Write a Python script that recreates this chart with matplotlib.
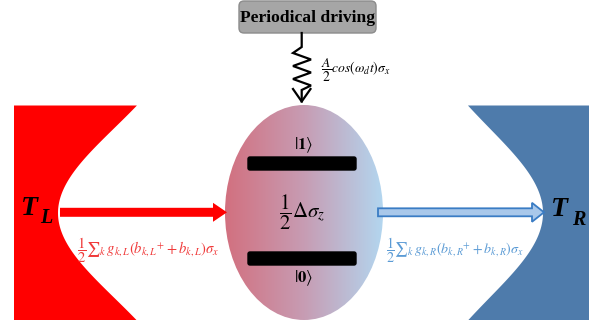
import numpy as np
import matplotlib
matplotlib.use("Agg")
import matplotlib.pyplot as plt
from matplotlib.patches import Polygon, Ellipse, FancyBboxPatch, FancyArrow
from matplotlib.colors import LinearSegmentedColormap

plt.rcParams['mathtext.fontset'] = 'stix'

# ---- text content ----
title_text = "Periodical driving"
drive_label = r'$\dfrac{A}{2}cos(\omega_d t)\sigma_x$'
left_label = r'$\dfrac{1}{2}\sum{}_k\, g_{k,L}(b_{k,L}{}^{+}+b_{k,L})\sigma_x$'
right_label = r'$\dfrac{1}{2}\sum{}_k\, g_{k,R}(b_{k,R}{}^{+}+b_{k,R})\sigma_x$'
center_label = r'$\dfrac{1}{2}\Delta\sigma_z$'
state_up = r'$|\mathbf{1}\rangle$'
state_down = r'$|\mathbf{0}\rangle$'
temps = ["L", "R"]

W, H = 599, 327
fig = plt.figure(figsize=(W / 100, H / 100), dpi=100)
ax = fig.add_axes([0, 0, 1, 1])
ax.set_xlim(0, W)
ax.set_ylim(H, 0)
ax.axis('off')

# ---- reservoirs ----
yy = np.linspace(105.5, 320, 200)
prof = 1 - np.exp(-((yy - 213) / 120.0) ** 2)
xl = 58 + 143 * prof
left_poly = np.vstack([[[14, 105.5]], np.column_stack([xl, yy]), [[14, 320]]])
ax.add_patch(Polygon(left_poly, closed=True, fc='#ff0000', ec='none', zorder=1))
xr = 543 - 136 * prof
right_poly = np.vstack([[[589, 105.5]], np.column_stack([xr, yy]), [[589, 320]]])
ax.add_patch(Polygon(right_poly, closed=True, fc='#4e7bab', ec='none', zorder=1))

# ---- central ellipse with gradient ----
cx, cy, ew, eh = 304, 212.5, 158, 215
ell = Ellipse((cx, cy), ew, eh, fc='none', ec='none', zorder=2)
ax.add_patch(ell)
cmap = LinearSegmentedColormap.from_list('g', ['#d2707f', '#c79cb3', '#b3d6ef'])
grad = np.linspace(0, 1, 256).reshape(1, -1)
im = ax.imshow(grad, cmap=cmap, extent=(cx - ew / 2, cx + ew / 2, cy + eh / 2, cy - eh / 2),
               aspect='auto', zorder=2, interpolation='bilinear')
im.set_clip_path(ell)
ax.set_xlim(0, W)
ax.set_ylim(H, 0)

# energy levels
for ytop in (157, 252):
    ax.add_patch(FancyBboxPatch((249, ytop + 1), 106, 11, boxstyle="round,pad=1,rounding_size=2",
                                fc='black', ec='black', zorder=3))
ax.text(304, 145, state_up, fontsize=12, ha='center', va='center', zorder=4)
ax.text(304, 278, state_down, fontsize=12, ha='center', va='center', zorder=4)
ax.text(302, 212, center_label, fontsize=15, ha='center', va='center', zorder=4)

# ---- arrows ----
ax.add_patch(FancyArrow(60, 212.3, 167, 0, width=9, head_width=19, head_length=14,
                        length_includes_head=True, fc='#ff0000', ec='none', zorder=3))
ax.add_patch(FancyArrow(378, 212.3, 166, 0, width=8, head_width=19, head_length=12,
                        length_includes_head=True, fc='#a9c8ea', ec='#3a7cc4', lw=1.3, zorder=3))

ax.text(77, 250, left_label, fontsize=10.5, color='#f03a3a', ha='left', va='center', zorder=4)
ax.text(386, 250, right_label, fontsize=10.1, color='#5b9bd5', ha='left', va='center', zorder=4)

# temperature labels
ax.text(21, 215, "T", fontsize=20, family='Liberation Serif', weight='bold', style='italic',
        ha='left', va='baseline', zorder=4)
ax.text(40, 223, temps[0], fontsize=14.5, family='Liberation Serif', weight='bold', style='italic',
        ha='left', va='baseline', zorder=4)
ax.text(551, 216.5, "T", fontsize=20, family='Liberation Serif', weight='bold', style='italic',
        ha='left', va='baseline', zorder=4)
ax.text(572, 225, temps[1], fontsize=14.5, family='Liberation Serif', weight='bold', style='italic',
        ha='left', va='baseline', zorder=4)

# ---- driving box ----
ax.add_patch(FancyBboxPatch((240, 2), 135, 30, boxstyle="round,pad=1,rounding_size=5",
                            fc='#a6a6a6', ec='#8c8c8c', lw=1, zorder=3))
ax.text(307, 18, title_text, fontsize=12.6, family='Liberation Serif', weight='bold',
        ha='center', va='center', zorder=4)

# spring
sx = [301.7, 301.7, 293, 311, 293, 311, 293, 311, 301.7, 301.7]
sy = [33, 47, 53, 59.5, 66, 72.5, 79, 85.5, 90, 101.5]
ax.plot(sx, sy, color='black', lw=1.6, solid_joinstyle='miter', zorder=4)
ax.plot([293, 301.7, 310.5], [89, 101.5, 89], color='black', lw=1.6, zorder=4)
ax.text(321, 70, drive_label, fontsize=9.8, ha='left', va='center', zorder=4)

fig.savefig('out.png', dpi=100)
